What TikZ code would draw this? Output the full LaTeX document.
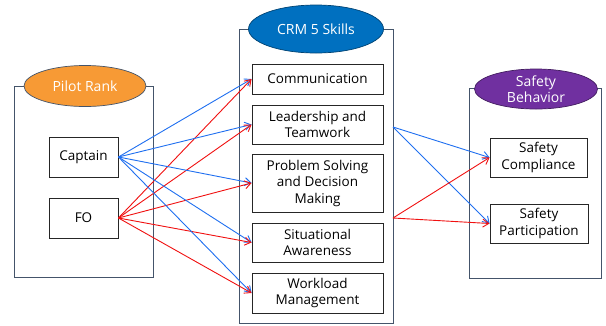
\documentclass[tikz,border=0pt]{standalone}
\usepackage{fontspec}
\setmainfont{Open Sans}
\usetikzlibrary{arrows.meta,shapes.geometric}
\definecolor{outerc}{HTML}{44546A}
\definecolor{innerc}{HTML}{262626}
\definecolor{orangef}{HTML}{F79A35}
\definecolor{bluef}{HTML}{0070C0}
\definecolor{purplef}{HTML}{7030A0}
\definecolor{arrblue}{HTML}{1F6FF0}
\definecolor{arrred}{HTML}{F01010}
\tikzset{
  outerbox/.style={draw=outerc, line width=0.9pt, fill=white, anchor=north west, inner sep=0pt},
  innerbox/.style={draw=innerc, line width=0.9pt, fill=white, align=center, inner sep=0pt,
     font=\fontsize{13.5}{16.5}\selectfont},
  titleell/.style={ellipse, draw=outerc, line width=0.7pt, inner sep=0pt, text=white, align=center,
     font=\fontsize{14}{16.5}\selectfont},
  barr/.style={draw=arrblue, line width=0.9pt, -{Straight Barb[length=6pt,width=8pt]}},
  rarr/.style={draw=arrred, line width=0.9pt, -{Straight Barb[length=6pt,width=8pt]}},
}
\begin{document}
\begin{tikzpicture}[x=1pt,y=-1pt]
\useasboundingbox (0,0) rectangle (606,325);
% outer boxes
\node[outerbox, minimum width=139pt, minimum height=191pt] (leftbox) at (14,86) {};
\node[outerbox, minimum width=154pt, minimum height=294pt] (midbox) at (239,29) {};
\node[outerbox, minimum width=132pt, minimum height=190pt] (rightbox) at (469,88) {};
% title ellipses
\node[titleell, fill=orangef, minimum width=122pt, minimum height=41pt] (pr) at (85,86) {Pilot Rank};
\node[titleell, fill=bluef, draw=bluef!60!black, minimum width=135pt, minimum height=48pt] (crm) at (316,29) {CRM 5 Skills};
\node[titleell, fill=purplef, draw=purplef!60!black, minimum width=123pt, minimum height=40pt] (sb) at (536,89) {Safety\\Behavior};
% left nodes
\node[innerbox, minimum width=69pt, minimum height=40pt] (cap) at (83.5,157) {Captain};
\node[innerbox, minimum width=69pt, minimum height=40pt] (fo) at (83.5,218) {FO};
% middle nodes
\node[innerbox, minimum width=131pt, minimum height=30pt] (com) at (317.5,79) {Communication};
\node[innerbox, minimum width=131pt, minimum height=39pt] (lead) at (317.5,124.5) {Leadership and\\Teamwork};
\node[innerbox, minimum width=131pt, minimum height=58pt] (prob) at (317.5,183) {Problem Solving\\and Decision\\Making};
\node[innerbox, minimum width=131pt, minimum height=39pt] (sit) at (317.5,242.5) {Situational\\Awareness};
\node[innerbox, minimum width=131pt, minimum height=40pt] (work) at (317.5,293) {Workload\\Management};
% right nodes
\node[innerbox, minimum width=97pt, minimum height=39pt] (comp) at (538.5,157.5) {Safety\\Compliance};
\node[innerbox, minimum width=98pt, minimum height=39pt] (part) at (539,223.5) {Safety\\Participation};
% midbox exit points
\coordinate (mb1) at (393,127);
\coordinate (mb2) at (393,218);
% arrows
\foreach \t in {com,lead,prob,sit,work}{
  \draw[barr] (cap.east) -- (\t.west);
  \draw[rarr] (fo.east) -- (\t.west);
}
\draw[barr] (mb1) -- (comp.west);
\draw[barr] (mb1) -- (part.west);
\draw[rarr] (mb2) -- (comp.west);
\draw[rarr] (mb2) -- (part.west);
\end{tikzpicture}
\end{document}
